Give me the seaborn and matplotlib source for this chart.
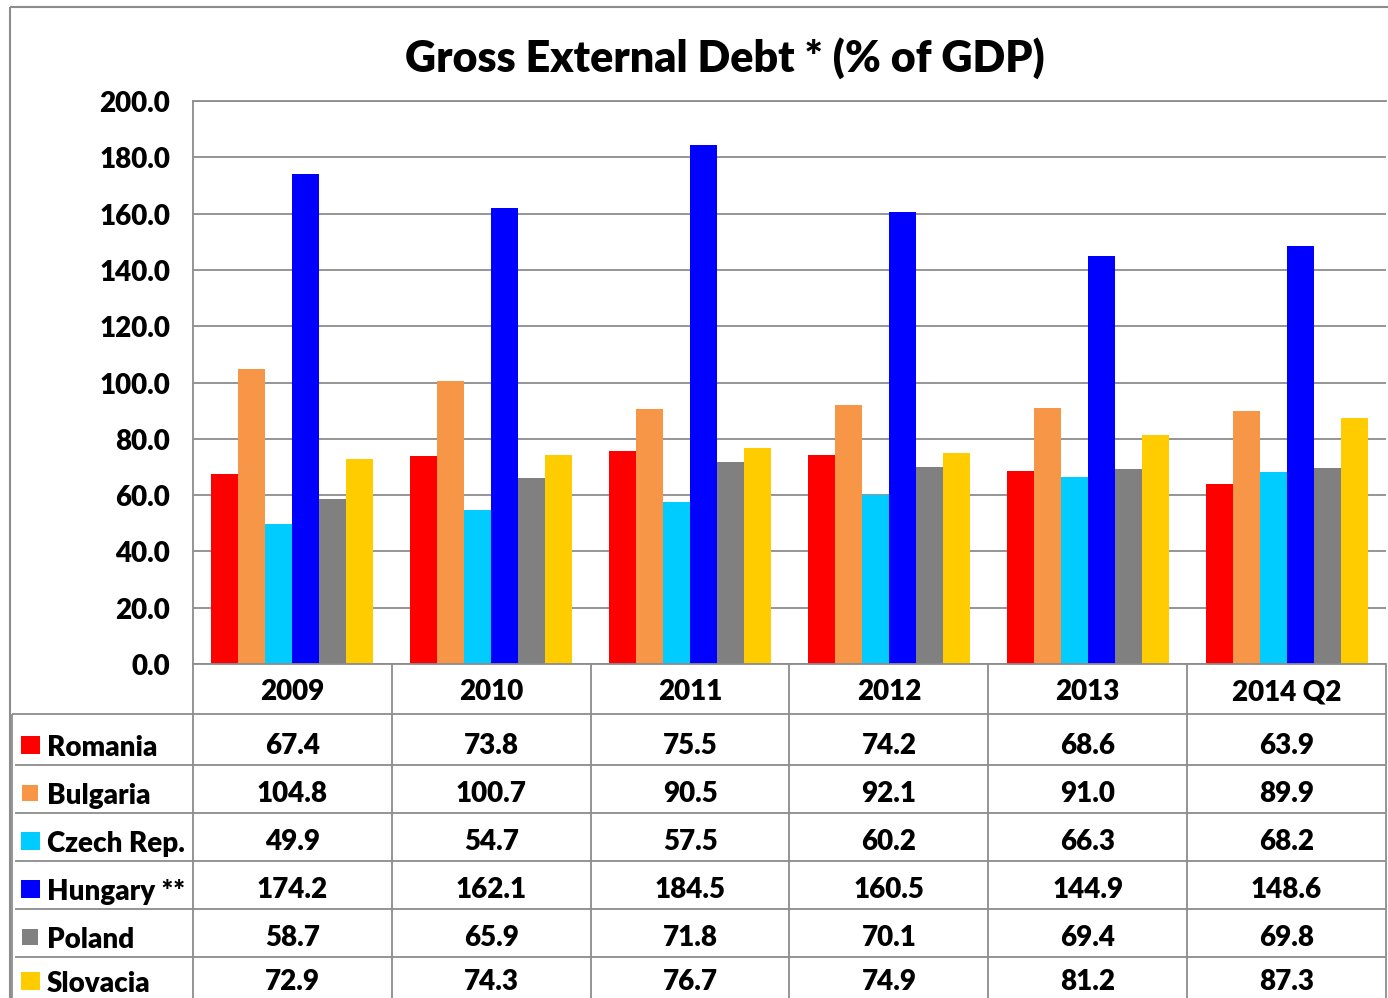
import numpy as np
import pandas as pd
import matplotlib
matplotlib.use("Agg")
import matplotlib.pyplot as plt
import matplotlib.transforms as mtransforms
import seaborn as sns
from matplotlib.patches import Rectangle

# ---- data -------------------------------------------------------------
periods = ["2009", "2010", "2011", "2012", "2013", "2014 Q2"]
countries = ["Romania", "Bulgaria", "Czech Rep.", "Hungary **", "Poland", "Slovacia"]
romania = [67.4, 73.8, 75.5, 74.2, 68.6, 63.9]
bulgaria = [104.8, 100.7, 90.5, 92.1, 91.0, 89.9]
czech = [49.9, 54.7, 57.5, 60.2, 66.3, 68.2]
hungary = [174.2, 162.1, 184.5, 160.5, 144.9, 148.6]
poland = [58.7, 65.9, 71.8, 70.1, 69.4, 69.8]
slovacia = [72.9, 74.3, 76.7, 74.9, 81.2, 87.3]
yticks = [0, 20, 40, 60, 80, 100, 120, 140, 160, 180, 200]
title = "Gross External Debt * (% of GDP)"

colors = ["#FF0000", "#F79646", "#00CCFF", "#0000FF", "#808080", "#FFCC00"]
series = [romania, bulgaria, czech, hungary, poland, slovacia]

df = pd.DataFrame(
    [(p, c, v) for c, vals in zip(countries, series) for p, v in zip(periods, vals)],
    columns=["period", "country", "value"],
)

# ---- style ------------------------------------------------------------
sns.set_theme(style="white")
plt.rcParams["font.family"] = ["Lato", "DejaVu Sans"]
WEIGHT = "heavy"
GRID = "#8C8C8C"
TXT = "#000000"
FS = 20

W, H = 1388, 998
fig = plt.figure(figsize=(W / 100, H / 100), dpi=100)

# plot area in pixel units
L, R, T, B = 193, 1386, 101, 664
ax = fig.add_axes([L / W, 1 - B / H, (R - L) / W, (B - T) / H])

sns.barplot(
    data=df, x="period", y="value", hue="country",
    order=periods, hue_order=countries, palette=colors,
    width=0.815, saturation=1, legend=False, ax=ax,
    edgecolor="none", linewidth=0,
)

ax.set_xlim(-0.5, len(periods) - 0.5)
ax.set_ylim(0, 200)
ax.set_yticks(yticks)
ax.set_yticklabels([f"{v:.1f}" for v in yticks], fontsize=FS,
                   fontweight=WEIGHT, color=TXT)
ax.tick_params(axis="y", length=0, pad=16.5)
shift_down = mtransforms.ScaledTranslation(0, -3 / 100, fig.dpi_scale_trans)
for lab in ax.get_yticklabels():
    lab.set_va("center")
    lab.set_transform(lab.get_transform() + shift_down)
ax.set_xticks([])
ax.set_xlabel("")
ax.set_ylabel("")
ax.yaxis.grid(True, color=GRID, lw=1.3)
ax.set_axisbelow(True)
for side in ("left", "bottom", "top"):
    ax.spines[side].set_visible(True)
    ax.spines[side].set_color(GRID)
    ax.spines[side].set_linewidth(1.3)
ax.spines["right"].set_visible(False)

# ---- overlay in pixel coordinates for frame and data table -----------
ov = fig.add_axes([0, 0, 1, 1], facecolor="none")
ov.set_xlim(0, W)
ov.set_ylim(H, 0)
ov.axis("off")

def hline(x0, x1, y, lw=1.3, c=GRID):
    ov.plot([x0, x1], [y, y], color=c, lw=lw, solid_capstyle="butt")

def vline(x, y0, y1, lw=1.3, c=GRID):
    ov.plot([x, x], [y0, y1], color=c, lw=lw, solid_capstyle="butt")

# chart frame
hline(10, W, 7, lw=1.5)
vline(10, 7, H, lw=1.5)

# table geometry
header_bottom = 714
row_bottoms = [765, 813, 861, 909, 957, 1005]
col_edges_px = [ov.transData.inverted().transform(ax.transData.transform((i - 0.5, 0)))[0]
                for i in range(len(periods) + 1)]
col_centers = [(a + b) / 2 for a, b in zip(col_edges_px[:-1], col_edges_px[1:])]

# grid of the table
for x in col_edges_px:
    vline(x, B, H)
vline(12.5, header_bottom, H)
hline(12.5, R, header_bottom)
for y in row_bottoms:
    hline(15, R, y)

# header labels
for x, p in zip(col_centers, periods):
    ov.text(x, 692, p, ha="center", va="center", fontsize=FS,
            fontweight=WEIGHT, color=TXT)

# rows: legend key, name, values (last row nudged up to stay inside the frame)
key_sizes = [(19, 18), (16, 16), (19, 18), (19, 18), (16, 16), (19, 18)]
for r, (name, vals, col) in enumerate(zip(countries, series, colors)):
    yb = row_bottoms[r] - (4 if r == len(countries) - 1 else 0)
    kw, kh = key_sizes[r]
    kc = yb - 20
    ov.add_patch(Rectangle((30.5 - kw / 2, kc - kh / 2), kw, kh,
                           facecolor=col, edgecolor="none"))
    ov.text(47, yb - 17, name, ha="left", va="center", fontsize=FS,
            fontweight=WEIGHT, color=TXT)
    for x, v in zip(col_centers, vals):
        ov.text(x, yb - 19, f"{v:.1f}", ha="center", va="center", fontsize=FS,
                fontweight=WEIGHT, color=TXT)

# title
ov.text(724.5, 58, title, ha="center", va="center", fontsize=31,
        fontweight=WEIGHT, color=TXT)

fig.savefig("out.png", dpi=100)
